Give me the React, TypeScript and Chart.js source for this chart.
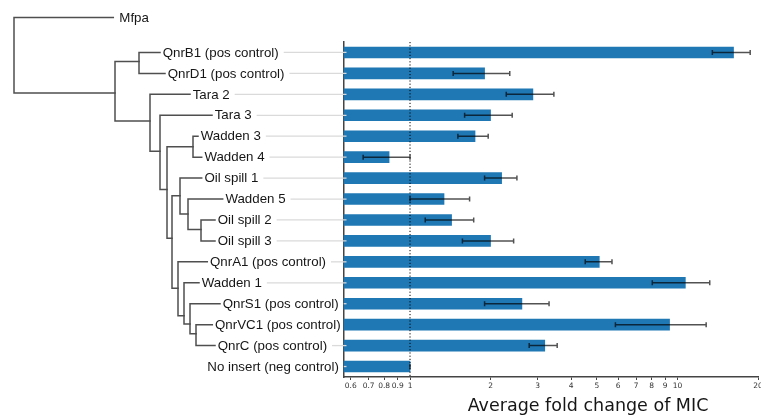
import React, { useEffect, useRef } from "react";
import { Chart, registerables } from "chart.js";

Chart.register(...registerables);

// ---- data ----
const categories = [
  "QnrB1 (pos control)",
  "QnrD1 (pos control)",
  "Tara 2",
  "Tara 3",
  "Wadden 3",
  "Wadden 4",
  "Oil spill 1",
  "Wadden 5",
  "Oil spill 2",
  "Oil spill 3",
  "QnrA1 (pos control)",
  "Wadden 1",
  "QnrS1 (pos control)",
  "QnrVC1 (pos control)",
  "QnrC (pos control)",
  "No insert (neg control)",
];
const foldChange = [16.2, 1.9, 2.88, 2.0, 1.75, 0.835, 2.2, 1.34, 1.43, 2.0, 5.1, 10.7, 2.62, 9.34, 3.19, 1.0];
const errLow = [13.5, 1.45, 2.29, 1.6, 1.51, 0.668, 1.9, 1.0, 1.14, 1.57, 4.52, 8.05, 1.9, 5.86, 2.79, 1.0];
const errHigh = [18.7, 2.36, 3.45, 2.41, 1.96, 1.0, 2.51, 1.67, 1.73, 2.44, 5.69, 13.2, 3.31, 12.8, 3.55, 1.0];
const tickValues = [0.6, 0.7, 0.8, 0.9, 1, 2, 3, 4, 5, 6, 7, 8, 9, 10, 20];
const tickLabels = ["0.6", "0.7", "0.8", "0.9", "1", "2", "3", "4", "5", "6", "7", "8", "9", "10", "20"];
const xMin = 0.564;
const xMax = 20;
const xTitle = "Average fold change of MIC";

// tree: outgroup + internal nodes (depth in tree units, row = vertical position in category rows)
const outgroupName = "Mfpa";
const outgroupRow = -1.67;
const outgroupTip = 99.3;
const leafTip = [146, 151, 176, 198, 184, 187.7, 187.7, 208.7, 201, 201, 193.3, 185, 206, 198.3, 201, 190.6];
const treeNodes = [
  { id: "root", depth: 0, row: 0, kids: [-1, "a"] },
  { id: "a", depth: 101, row: 1.93, kids: ["b", "c"] },
  { id: "b", depth: 125, row: 0.43, kids: [0, 1] },
  { id: "c", depth: 136, row: 3.27, kids: [2, "d"] },
  { id: "d", depth: 146, row: 4.72, kids: [3, "e"] },
  { id: "e", depth: 153, row: 6.55, kids: ["f", "g"] },
  { id: "f", depth: 179, row: 4.5, kids: [4, 5] },
  { id: "g", depth: 158, row: 8.87, kids: ["h", "k"] },
  { id: "h", depth: 166, row: 6.84, kids: [6, "i"] },
  { id: "i", depth: 174, row: 7.71, kids: [7, "j"] },
  { id: "j", depth: 187, row: 8.45, kids: [8, 9] },
  { id: "k", depth: 164, row: 11.26, kids: [10, "l"] },
  { id: "l", depth: 170, row: 12.57, kids: [11, "m"] },
  { id: "m", depth: 176, row: 12.97, kids: [12, "n"] },
  { id: "n", depth: 182, row: 13.44, kids: [13, 14] },
];

const TREE_X0 = 14;
const LABEL_FONT = '13.3px "Liberation Sans", Arial, sans-serif';

const overlayPlugin = {
  id: "overlay",
  afterDatasetsDraw(chart: any) {
    const ctx = chart.ctx;
    const xs = chart.scales.x;
    const ys = chart.scales.y;
    const area = chart.chartArea;
    ctx.save();
    // dotted line at 1
    const x1 = xs.getPixelForValue(1);
    ctx.strokeStyle = "#000";
    ctx.lineWidth = 1;
    ctx.setLineDash([1.2, 2]);
    ctx.beginPath();
    ctx.moveTo(x1, area.top);
    ctx.lineTo(x1, area.bottom);
    ctx.stroke();
    ctx.setLineDash([]);
    // error bars
    ctx.strokeStyle = "rgba(0,0,0,0.68)";
    ctx.lineWidth = 1.5;
    for (let i = 0; i < categories.length; i++) {
      const y = ys.getPixelForValue(i);
      const a = xs.getPixelForValue(errLow[i]);
      const b = xs.getPixelForValue(errHigh[i]);
      ctx.beginPath();
      ctx.moveTo(a, y);
      ctx.lineTo(b, y);
      ctx.moveTo(a, y - 2.5);
      ctx.lineTo(a, y + 2.5);
      ctx.moveTo(b, y - 2.5);
      ctx.lineTo(b, y + 2.5);
      ctx.stroke();
    }
    ctx.restore();
  },
  afterDraw(chart: any) {
    const ctx = chart.ctx;
    const ys = chart.scales.y;
    const area = chart.chartArea;
    const rowY = (r: number) => ys.getPixelForValue(r);
    const byId: Record<string, any> = {};
    treeNodes.forEach((n) => (byId[n.id] = n));
    const kidInfo = (k: any) => {
      if (typeof k === "number") {
        if (k < 0) return { x: TREE_X0 + outgroupTip, y: rowY(outgroupRow) };
        return { x: TREE_X0 + leafTip[k], y: rowY(k) };
      }
      const n = byId[k];
      return { x: TREE_X0 + n.depth, y: rowY(n.row) };
    };
    ctx.save();
    ctx.strokeStyle = "#4f4f4f";
    ctx.lineWidth = 1.5;
    ctx.lineCap = "square";
    treeNodes.forEach((n) => {
      const nx = TREE_X0 + n.depth;
      const kids = n.kids.map(kidInfo);
      const yTop = Math.min(...kids.map((k: any) => k.y));
      const yBot = Math.max(...kids.map((k: any) => k.y));
      ctx.beginPath();
      ctx.moveTo(nx, yTop);
      ctx.lineTo(nx, yBot);
      kids.forEach((k: any) => {
        ctx.moveTo(nx, k.y);
        ctx.lineTo(k.x, k.y);
      });
      ctx.stroke();
    });
    // labels + leaders
    ctx.font = LABEL_FONT;
    ctx.textBaseline = "middle";
    ctx.textAlign = "left";
    ctx.fillStyle = "#161616";
    ctx.fillText(outgroupName, TREE_X0 + outgroupTip + 6, rowY(outgroupRow) + 0.5);
    for (let i = 0; i < categories.length; i++) {
      const y = rowY(i);
      const lx = TREE_X0 + leafTip[i] + 2.7;
      const w = ctx.measureText(categories[i]).width;
      const start = lx + w + 5;
      const end = area.left + 3;
      if (start < end - 1) {
        ctx.strokeStyle = "#dadada";
        ctx.lineWidth = 1.3;
        ctx.lineCap = "butt";
        ctx.beginPath();
        ctx.moveTo(start, y);
        ctx.lineTo(end, y);
        ctx.stroke();
      }
      ctx.fillStyle = "#161616";
      ctx.fillText(categories[i], lx, y + 0.5);
    }
    // axis title
    ctx.font = '17.5px "DejaVu Sans", sans-serif';
    ctx.textAlign = "center";
    ctx.fillStyle = "#161616";
    ctx.fillText(xTitle, 588, 406);
    ctx.restore();
  },
};

export default function App() {
  const ref = useRef<HTMLCanvasElement | null>(null);
  useEffect(() => {
    if (!ref.current) return;
    const chart = new Chart(ref.current, {
      type: "bar",
      data: {
        labels: categories,
        datasets: [
          {
            data: foldChange,
            backgroundColor: "#1f77b4",
            borderWidth: 0,
            barThickness: 11,
          },
        ],
      },
      options: {
        indexAxis: "y",
        responsive: false,
        animation: false,
        devicePixelRatio: 1,
        layout: { padding: { left: 0, top: 42, right: 22, bottom: 0 } },
        plugins: { legend: { display: false }, tooltip: { enabled: false } },
        scales: {
          x: {
            type: "logarithmic",
            min: xMin,
            max: xMax,
            bounds: "data",
            afterBuildTicks: (s: any) => {
              s.ticks = tickValues.map((v) => ({ value: v }));
            },
            afterFit: (s: any) => {
              s.height = 39;
            },
            ticks: {
              autoSkip: false,
              maxRotation: 0,
              minRotation: 0,
              padding: 1.5,
              color: "#333",
              font: { family: "DejaVu Sans", size: 7.5 },
              callback: (_v: any, i: number) => tickLabels[i],
            },
            grid: {
              display: true,
              drawOnChartArea: false,
              drawTicks: true,
              tickLength: 3,
              color: "#444",
              lineWidth: 1,
            },
            border: { display: true, color: "#444", width: 1.5 },
          },
          y: {
            type: "category",
            afterFit: (s: any) => {
              s.width = 343.5;
            },
            ticks: { display: false },
            grid: { display: false },
            border: { display: true, color: "#444", width: 1.5 },
          },
        },
      } as any,
      plugins: [overlayPlugin],
    });
    return () => chart.destroy();
  }, []);
  return (
    <div
      style={{
        position: "fixed",
        left: 0,
        top: 0,
        width: 761,
        height: 416,
        overflow: "hidden",
        background: "#fff",
      }}
    >
      <canvas ref={ref} width={780} height={416} style={{ display: "block", width: 780, height: 416 }} />
    </div>
  );
}
